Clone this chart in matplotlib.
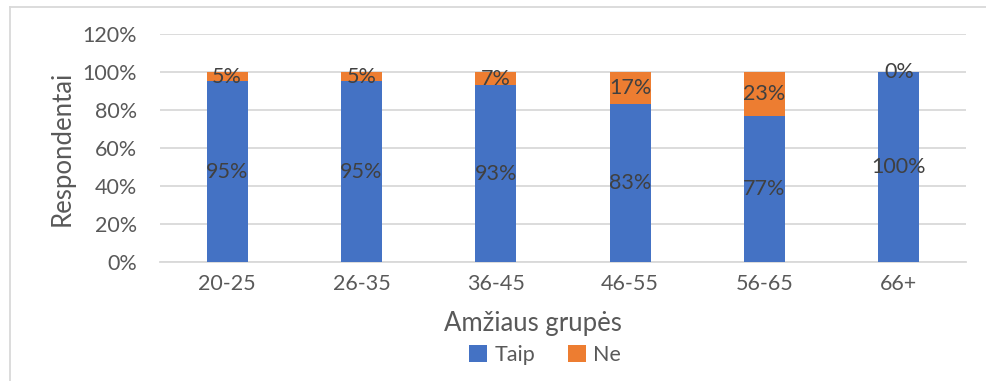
import matplotlib.pyplot as plt
from matplotlib.lines import Line2D
import numpy as np

groups = ["20-25", "26-35", "36-45", "46-55", "56-65", "66+"]
taip = [95, 95, 93, 83, 77, 100]
ne = [5, 5, 7, 17, 23, 0]

BLUE = "#4472C4"
ORANGE = "#ED7D31"
TXT = "#595959"
LBL = "#404040"

plt.rcParams["font.family"] = ["Lato", "DejaVu Sans"]

fig = plt.figure(figsize=(9.86, 3.81), dpi=100)
ax = fig.add_axes([160 / 986, 1 - 262 / 381, 806 / 986, 228 / 381])

x = np.arange(len(groups))
w = 0.305
b1 = ax.bar(x, taip, w, color=BLUE, label="Taip", zorder=3)
b2 = ax.bar(x, ne, w, bottom=taip, color=ORANGE, label="Ne", zorder=3)

for xi, t, n in zip(x, taip, ne):
    ax.text(xi, t / 2, f"{t}%", ha="center", va="center", fontsize=15.5, color=LBL, zorder=4)
    ax.text(xi, t + n / 2, f"{n}%", ha="center", va="center", fontsize=15.5, color=LBL, zorder=4)

ax.set_xlim(-0.5, len(groups) - 0.5)
ax.set_ylim(0, 120)
ax.set_yticks(range(0, 121, 20))
ax.set_yticklabels([f"{v}%" for v in range(0, 121, 20)])
ax.set_xticks(x)
ax.set_xticklabels(groups)
ax.tick_params(length=0, labelsize=15.5, colors=TXT)
ax.tick_params(axis="y", pad=16.5)
ax.tick_params(axis="x", pad=9)
ax.grid(axis="y", color="#D9D9D9", lw=1.3, zorder=0)
for s in ["top", "right", "left"]:
    ax.spines[s].set_visible(False)
ax.spines["bottom"].set_color("#D9D9D9")
ax.spines["bottom"].set_linewidth(1.3)

fig.text(62 / 986, 1 - 148 / 381, "Respondentai", rotation=90, ha="center", va="center",
         fontsize=18.5, color=TXT)
fig.text(533 / 986, 1 - 323 / 381, "Amžiaus grupės", ha="center", va="center",
         fontsize=18.5, color=TXT)

leg = fig.legend(handles=[b1, b2], labels=["Taip", "Ne"], loc="center",
                 bbox_to_anchor=(545 / 986, 1 - 355 / 381), ncol=2, frameon=False,
                 fontsize=15.5, handlelength=0.85, handleheight=0.85, columnspacing=1.5,
                 handletextpad=0.35, labelcolor=TXT)

# partial chart-area border
fig.add_artist(Line2D([10 / 986, 10 / 986], [0, 1 - 7 / 381], color="#D9D9D9", lw=1.3))
fig.add_artist(Line2D([10 / 986, 1], [1 - 7 / 381, 1 - 7 / 381], color="#D9D9D9", lw=1.3))

fig.savefig("out.png", dpi=100, facecolor="white")
